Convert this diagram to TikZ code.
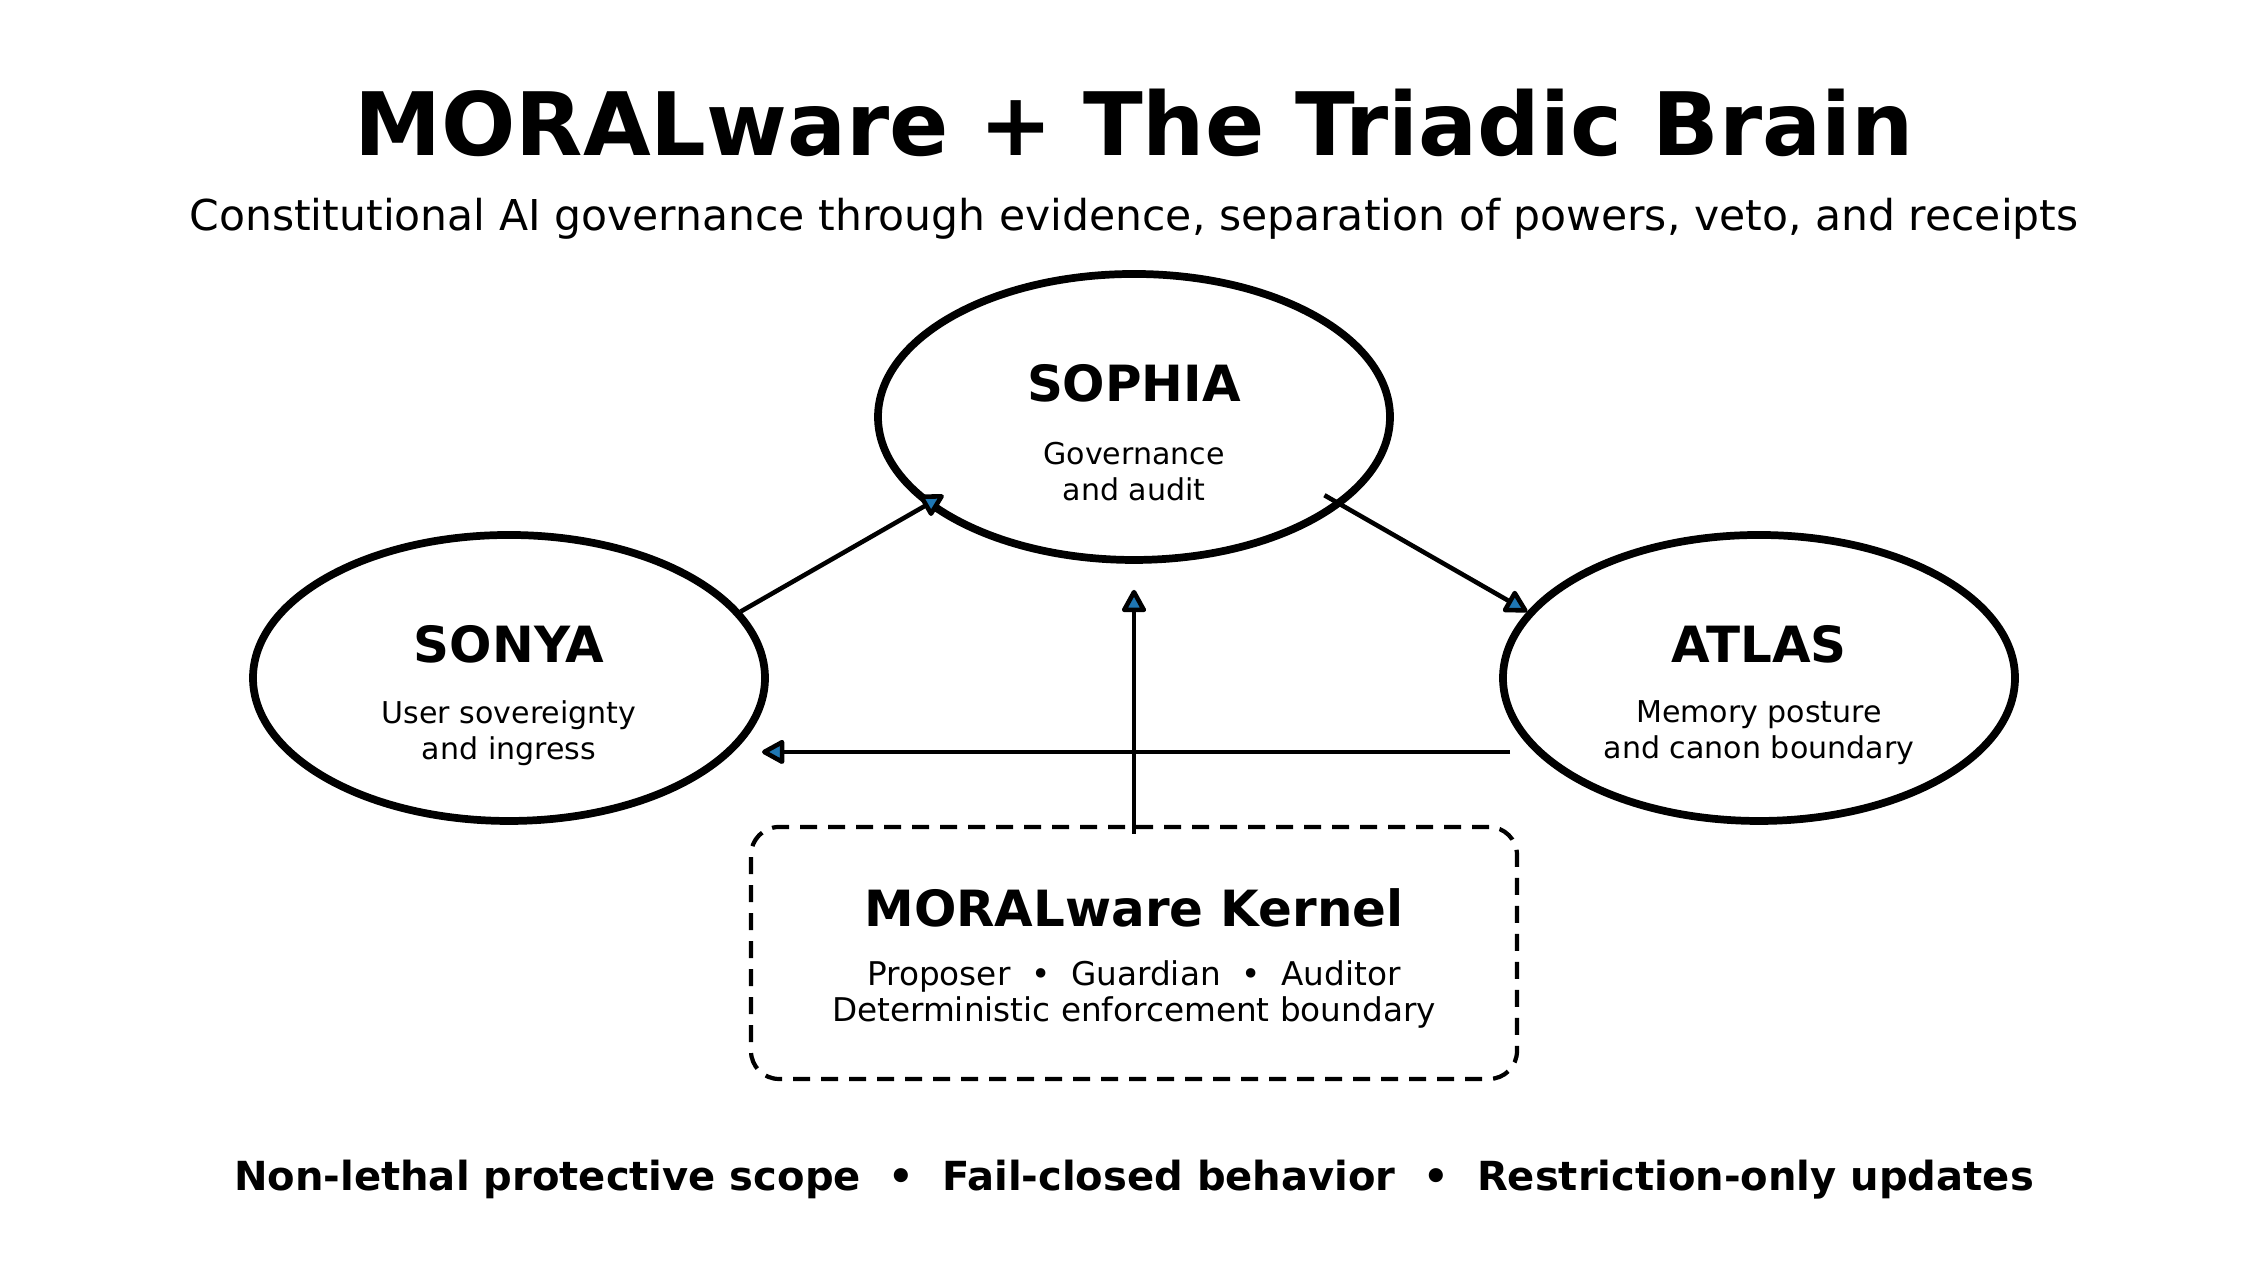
\documentclass[tikz,border=0pt]{standalone}
\usepackage{fontspec}
\setmainfont{DejaVu Sans}
\usepackage{tikz}
\usepackage{xcolor}
\usetikzlibrary{arrows.meta,positioning,shapes.geometric,calc}
\definecolor{ink}{HTML}{000000}
\definecolor{tipblue}{HTML}{1F77B4}
\tikzset{
  realm/.style={ellipse,draw=ink,fill=white,line width=2.2pt,
                minimum width=5.12cm,minimum height=2.86cm,inner sep=0pt},
  realmname/.style={font=\fontsize{14.2}{17}\selectfont\bfseries,inner sep=0pt},
  realmnote/.style={font=\fontsize{8.55}{10.2}\selectfont,align=center,inner sep=0pt},
  kernelbox/.style={draw=ink,line width=1.2pt,rounded corners=0.28cm,
                    dash pattern=on 0.17cm off 0.11cm,
                    minimum width=7.66cm,minimum height=2.52cm,inner sep=0pt},
  flow/.style={-{Triangle[round,length=2.5mm,width=2.6mm,fill=tipblue]},
               line width=1.3pt,draw=ink}
}
\begin{document}
\begin{tikzpicture}[x=1cm,y=1cm]
    \path[use as bounding box] (0,0) rectangle (22.68,12.83);

    \node[font=\fontsize{24.9}{30}\selectfont\bfseries] (title) at (11.34,11.6)
      {MORALware + The Triadic Brain};
    \node[font=\fontsize{12.1}{15}\selectfont] (subtitle) at (11.34,10.64)
      {Constitutional AI governance through evidence, separation of powers, veto, and receipts};

    % the three realms
    \node[realm] (sophia) at (11.34,8.66) {};
    \node[realmname] (sophianame) at (11.34,9.00) {SOPHIA};
    \node[realmnote] (sophianote) at (11.34,8.11) {Governance\\and audit};

    \node[realm] (sonya) at (5.09,6.05) {};
    \node[realmname] (sonyaname) at (5.09,6.39) {SONYA};
    \node[realmnote] (sonyanote) at (5.09,5.50) {User sovereignty\\and ingress};

    \node[realm] (atlas) at (17.59,6.05) {};
    \node[realmname] (atlasname) at (17.59,6.39) {ATLAS};
    \node[realmnote] (atlasnote) at (17.59,5.50) {Memory posture\\and canon boundary};

    % kernel
    \node[kernelbox] (kernel) at (11.34,3.30) {};
    \node[realmname] (kernelname) at (11.34,3.75) {MORALware Kernel};
    \node[font=\fontsize{9.3}{10.4}\selectfont,align=center,inner sep=0pt] (kernelnote)
      at (11.34,2.885)
      {Proposer~~•~~Guardian~~•~~Auditor\\Deterministic enforcement boundary};

    \draw[flow,shorten >=-0.2cm] (sonya.16) -- (sophia.203);
    \draw[flow,shorten <=-0.2cm] (sophia.337) -- (atlas.164);
    \draw[flow,shorten <=-0.09cm,shorten >=0.26cm] (kernel.north) -- (sophia.south);
    \draw[flow] ($(atlas.center)+(-2.49,-0.74)$) -- ($(sonya.center)+(2.53,-0.74)$);

    \node[font=\fontsize{11.4}{14}\selectfont\bfseries] (scope) at (11.34,1.03)
      {Non-lethal protective scope~~•~~Fail-closed behavior~~•~~Restriction-only updates};
  \end{tikzpicture}
\end{document}
